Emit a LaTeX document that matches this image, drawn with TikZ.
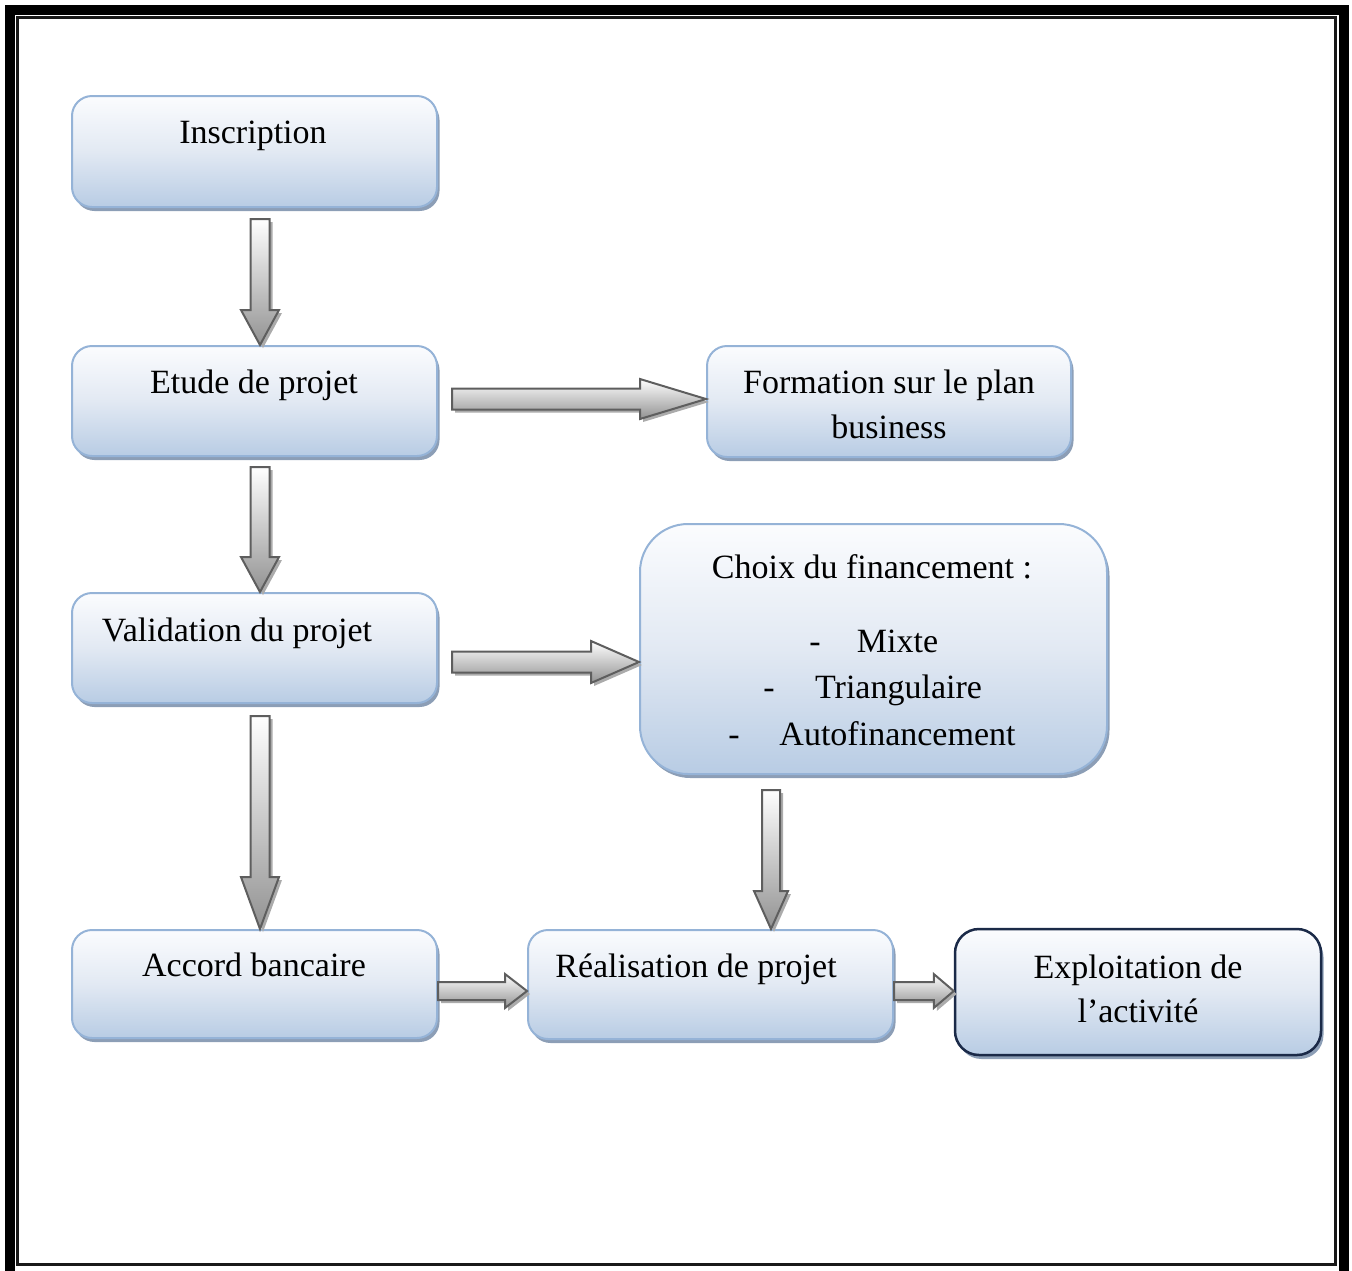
\documentclass[tikz,border=0pt]{standalone}
\usepackage{fontspec}
\setmainfont{Liberation Serif}
\usetikzlibrary{calc,shadows}

\definecolor{boxedge}{HTML}{95B3D7}
\definecolor{boxtop}{HTML}{FBFCFE}
\definecolor{boxmid}{HTML}{E2E9F3}
\definecolor{boxbot}{HTML}{B8CCE4}
\definecolor{boxshade}{HTML}{8C9EB6}
\definecolor{navy}{HTML}{1B2A48}
\definecolor{arrowedge}{HTML}{5E5E5E}
\definecolor{arrowshade}{HTML}{ABABAB}
\definecolor{arrowbot}{HTML}{929292}

% block arrow pointing down: start, tip, shaft half width, head half width, head length
\newcommand{\vblockarrow}[5]{%
  \path[blockarrow] let \p1=(#1), \p2=(#2) in
    (\x1-#3pt,\y1) -- (\x1+#3pt,\y1) -- (\x1+#3pt,\y2+#5pt) -- (\x1+#4pt,\y2+#5pt)
    -- (\x1,\y2) -- (\x1-#4pt,\y2+#5pt) -- (\x1-#3pt,\y2+#5pt) -- cycle;}
% block arrow pointing right: start, tip, shaft half height, head half height, head length
\newcommand{\hblockarrow}[5]{%
  \path[blockarrow] let \p1=(#1), \p2=(#2) in
    (\x1,\y1+#3pt) -- (\x2-#5pt,\y1+#3pt) -- (\x2-#5pt,\y1+#4pt) -- (\x2,\y1)
    -- (\x2-#5pt,\y1-#4pt) -- (\x2-#5pt,\y1-#3pt) -- (\x1,\y1-#3pt) -- cycle;}

\tikzset{
  stepbox/.style={draw=boxedge, line width=2pt, rounded corners=20pt,
    top color=boxtop, bottom color=boxbot, middle color=boxmid,
    drop shadow={shadow xshift=2.5pt, shadow yshift=-4pt, fill=boxshade, opacity=1},
    inner sep=0pt},
  blockarrow/.style={draw=arrowedge, line width=2pt, line join=miter,
    top color=white, bottom color=arrowbot,
    drop shadow={shadow xshift=3pt, shadow yshift=-3pt, fill=arrowshade, opacity=1}},
  label/.style={anchor=base, inner sep=0pt, font=\fontsize{34}{40}\selectfont},
}

\begin{document}
\begin{tikzpicture}[x=1pt,y=-1pt]
\useasboundingbox (0,0) rectangle (1352,1270);

% page frame
\draw[line width=10pt] (10,10) rectangle (1343.5,1282);
\draw[line width=2.5pt, black!90] (17.5,17.5) rectangle (1335.5,1264.5);

% boxes
\node[stepbox, minimum width=365pt, minimum height=111pt] (ins) at (254.5,151.5) {};
\node[stepbox, minimum width=365pt, minimum height=110pt] (etu) at (254.5,401) {};
\node[stepbox, minimum width=365pt, minimum height=110pt] (val) at (254.5,648) {};
\node[stepbox, minimum width=365pt, minimum height=108pt] (acc) at (254.5,984) {};
\node[stepbox, minimum width=364pt, minimum height=111pt] (form) at (889,401.5) {};
\node[stepbox, rounded corners=48pt, minimum width=467pt, minimum height=250pt] (choix) at (873.5,649) {};
\node[stepbox, minimum width=365pt, minimum height=109pt] (real) at (710.5,984.5) {};
\node[stepbox, draw=navy, line width=2.5pt, rounded corners=24pt, minimum width=366pt, minimum height=126pt] (expl) at (1138,992) {};

% texts
\node[label] (tins) at (253,143) {Inscription};
\node[label] (tetu) at (254,393) {Etude de projet};
\node[label] (tval) at (237,641) {Validation du projet};
\node[label] (tform1) at (889,393) {Formation sur le plan};
\node[label] (tform2) at (889,438) {business};
\node[label] (tchoix) at (872,578) {Choix du financement :};
\node[label] (d1) at (815,652) {-};
\node[label] (tmix) at (897.5,652) {Mixte};
\node[label] (d2) at (769,698) {-};
\node[label] (ttri) at (898.5,698) {Triangulaire};
\node[label] (d3) at (734,745) {-};
\node[label] (tauto) at (897.5,745) {Autofinancement};
\node[label] (tacc) at (254,976) {Accord bancaire};
\node[label] (treal) at (696,977) {Réalisation de projet};
\node[label] (texpl1) at (1138,978) {Exploitation de};
\node[label] (texpl2) at (1138,1022) {l’activité};

% vertical arrows
\vblockarrow{$(ins.south)+(5.5,11)$}{$(etu.north)+(5.5,0)$}{9.5}{19}{35}
\vblockarrow{$(etu.south)+(5.5,10)$}{$(val.north)+(5.5,0)$}{9.5}{19}{35}
\vblockarrow{$(val.south)+(5.5,12)$}{$(acc.north)+(5.5,0)$}{9.5}{19}{52}
\vblockarrow{$(choix.south)+(-102.5,15)$}{$(real.north)+(60.5,0)$}{9}{17}{38}

% horizontal arrows
\hblockarrow{$(etu.east)+(14,-2)$}{$(form.west)+(0,-2.5)$}{10.5}{20}{66}
\hblockarrow{$(val.east)+(14,14)$}{$(choix.west)+(0,13)$}{10.5}{21}{48}
\hblockarrow{$(acc.east)+(0,7)$}{$(real.west)+(0,6.5)$}{9}{17}{22}
\hblockarrow{$(real.east)+(0,6.5)$}{$(expl.west)+(0,-1)$}{9}{17}{20}
\end{tikzpicture}
\end{document}
